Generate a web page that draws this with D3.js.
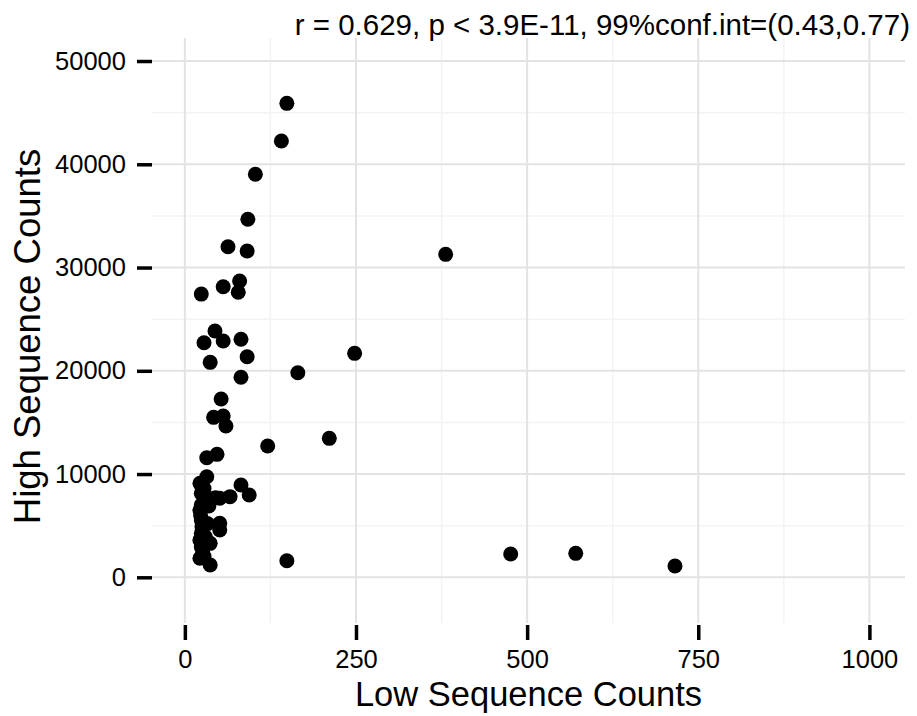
<!DOCTYPE html>
<html lang="en">
<head>
    <meta charset="UTF-8">
    <title>Low vs High Sequence Counts</title>
    <script src="https://d3js.org/d3.v7.min.js"></script>
    <style>
        body {
            margin: 0;
            padding: 0;
            background: #fff;
        }
        svg {
            font-family: "Liberation Sans", Arial, Helvetica, sans-serif;
            display: block;
        }
        .grid-major line { stroke: #e3e3e3; stroke-width: 2; }
        .grid-minor line { stroke: #f3f3f3; stroke-width: 1.5; }
        .dot { fill: #000; }
    </style>
</head>
<body>
    <svg></svg>

    <script>
        // Data
        const lowCounts = [149, 141, 103, 92, 63, 91, 381, 80, 56, 78, 24, 44, 82, 28, 56,
            248, 91, 37, 165, 82, 53, 42, 56, 60, 211, 121, 47, 32, 32, 22, 82, 94, 66,
            51, 24, 24, 51, 51, 24, 24, 37, 24, 22, 37, 149, 476, 571, 716,
            22, 23, 25, 22, 26, 30, 35, 28, 33, 30, 28, 38, 45];
        const highCounts = [45900, 42250, 39030, 34670, 32020, 31600, 31280, 28700, 28140, 27600, 27430, 23850, 23050, 22720, 22880,
            21690, 21360, 20820, 19815, 19370, 17270, 15490, 15620, 14650, 13460, 12720, 11910, 11580, 9740, 9100, 8940, 7970, 7810,
            7650, 8130, 7000, 5230, 4580, 5550, 4260, 3290, 2960, 1840, 1190, 1610, 2260, 2320, 1090,
            6500, 6000, 4900, 3600, 2400, 7400, 6900, 8600, 5200, 3900, 2000, 7600, 7700];

        const xTicks = [0, 250, 500, 750, 1000];
        const xMinor = [125, 375, 625, 875];
        const yTicks = [0, 10000, 20000, 30000, 40000, 50000];
        const yMinor = [5000, 15000, 25000, 35000, 45000];

        const titleText = "r = 0.629, p < 3.9E-11, 99%conf.int=(0.43,0.77)";
        const xLabel = "Low Sequence Counts";
        const yLabel = "High Sequence Counts";

        const width = 917, height = 716;
        const panel = { left: 152, right: 905, top: 38, bottom: 623 };

        const svg = d3.select("svg")
            .attr("width", width)
            .attr("height", height);

        const x = d3.scaleLinear()
            .domain([-48, 1052])
            .range([panel.left, panel.right]);

        const y = d3.scaleLinear()
            .domain([-4425, 52230])
            .range([panel.bottom, panel.top]);

        // minor grid
        const minor = svg.append("g").attr("class", "grid-minor");
        minor.selectAll(".vx")
            .data(xMinor)
            .join("line")
            .attr("x1", d => x(d)).attr("x2", d => x(d))
            .attr("y1", panel.top).attr("y2", panel.bottom);
        minor.selectAll(".hy")
            .data(yMinor)
            .join("line")
            .attr("x1", panel.left).attr("x2", panel.right)
            .attr("y1", d => y(d)).attr("y2", d => y(d));

        // major grid
        const major = svg.append("g").attr("class", "grid-major");
        major.selectAll(".vx")
            .data(xTicks)
            .join("line")
            .attr("class", "vx")
            .attr("x1", d => x(d)).attr("x2", d => x(d))
            .attr("y1", panel.top).attr("y2", panel.bottom);
        major.selectAll(".hy")
            .data(yTicks)
            .join("line")
            .attr("class", "hy")
            .attr("x1", panel.left).attr("x2", panel.right)
            .attr("y1", d => y(d)).attr("y2", d => y(d));

        // axes: thick short ticks, no domain line
        const xAxis = svg.append("g")
            .attr("transform", `translate(0, ${panel.bottom + 2})`)
            .call(d3.axisBottom(x).tickValues(xTicks).tickSize(15).tickPadding(10).tickFormat(d3.format("d")));
        const yAxis = svg.append("g")
            .attr("transform", `translate(${panel.left}, 0)`)
            .call(d3.axisLeft(y).tickValues(yTicks).tickSize(15).tickPadding(11).tickFormat(d3.format("d")));

        [xAxis, yAxis].forEach(g => {
            g.select(".domain").remove();
            g.selectAll(".tick line").attr("stroke", "#000").attr("stroke-width", 3.5);
            g.selectAll(".tick text")
                .attr("fill", "#000")
                .style("font-size", "25.5px")
                .style("font-family", "'Liberation Sans', Arial, sans-serif");
        });

        // points
        const points = lowCounts.map((v, i) => ({ low: v, high: highCounts[i] }));
        svg.append("g")
            .selectAll("circle")
            .data(points)
            .join("circle")
            .attr("class", "dot")
            .attr("cx", d => x(d.low))
            .attr("cy", d => y(d.high))
            .attr("r", 7.5);

        // title, right aligned
        svg.append("text")
            .attr("x", 910)
            .attr("y", 35)
            .attr("text-anchor", "end")
            .style("font-size", "29.5px")
            .text(titleText);

        // axis titles
        svg.append("text")
            .attr("x", (panel.left + panel.right) / 2)
            .attr("y", 706)
            .attr("text-anchor", "middle")
            .style("font-size", "34.5px")
            .text(xLabel);

        svg.append("text")
            .attr("transform", `translate(40, ${(panel.top + panel.bottom) / 2 + 6}) rotate(-90)`)
            .attr("text-anchor", "middle")
            .style("font-size", "36.5px")
            .text(yLabel);
    </script>
</body>
</html>
